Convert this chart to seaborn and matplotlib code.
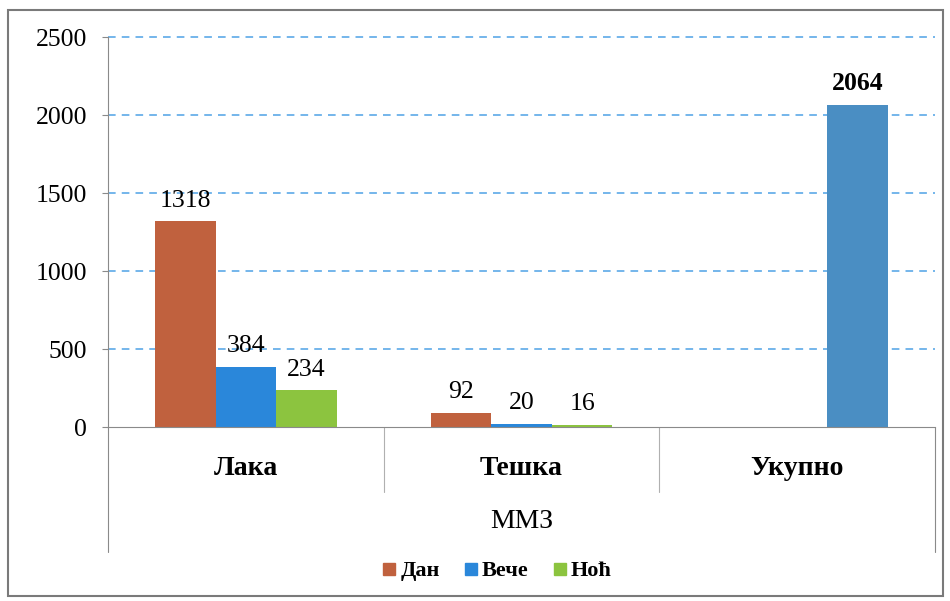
import pandas as pd
import matplotlib
matplotlib.use('Agg')
import matplotlib.pyplot as plt
import seaborn as sns
from matplotlib.lines import Line2D
from matplotlib.patches import Rectangle

# values
categories = ['Лака', 'Тешка', 'Укупно']
series = ['Дан', 'Вече', 'Ноћ']
dan = [1318, 92, None]
veche = [384, 20, None]
noc = [234, 16, 2064]
group_label = 'ММЗ'

colors = {'Дан': '#C0613E', 'Вече': '#2A87DA', 'Ноћ': '#8CC43F'}
total_color = '#4A8EC3'

rows = []
for name, vals in zip(series, [dan, veche, noc]):
    for cat, v in zip(categories, vals):
        if v is not None:
            rows.append({'cat': cat, 'series': name, 'value': v})
df = pd.DataFrame(rows)

sns.set_style('white')
plt.rcParams['font.family'] = ['Liberation Serif', 'DejaVu Serif']
plt.rcParams['text.color'] = 'black'
plt.rcParams['xtick.labelcolor'] = 'black'
plt.rcParams['ytick.labelcolor'] = 'black'

W, H = 950, 601
fig = plt.figure(figsize=(W / 100, H / 100), dpi=100)
ax = fig.add_axes([108 / W, (H - 427) / H, 827 / W, 390 / H])

sns.barplot(data=df, x='cat', y='value', hue='series', order=categories,
            hue_order=series, palette=colors, width=0.66, saturation=1,
            linewidth=0, legend=False, ax=ax)

# the total bar has its own colour
total_bar = ax.containers[2].patches[-1]
total_bar.set_facecolor(total_color)

for i, cont in enumerate(ax.containers):
    labs = ax.bar_label(cont, fmt='%d', padding=7, fontsize=18.5)
    if i == 2:
        labs[-1].set_fontweight('bold')

ax.set_xlim(-0.5, 2.5)
ax.set_ylim(0, 2500)
ax.set_yticks(range(0, 2501, 500))
ax.yaxis.grid(True, linestyle=(0, (5, 4)), color='#4EA2E6', linewidth=1.1)
ax.set_axisbelow(True)
for s in ['top', 'right']:
    ax.spines[s].set_visible(False)
ax.spines['left'].set_color('#8A8A8A')
ax.spines['bottom'].set_color('#8A8A8A')
ax.spines['bottom'].set_zorder(3)
ax.tick_params(axis='y', length=4, direction='out', color='#8A8A8A',
               labelsize=18.5, pad=11, left=True)
ax.tick_params(axis='x', length=0, pad=21)
ax.set_xticks(range(len(categories)))
ax.set_xticklabels(categories, fontsize=20, fontweight='bold')
ax.set_xlabel('')
ax.set_ylabel('')

# the zero line is the solid axis, not a dashed grid line
fig.canvas.draw()
grid = ax.yaxis.get_gridlines()
grid[0].set_visible(False)
for g in grid:
    g.set_clip_on(False)

# table lines under the axis
inner = -(492 - 427) / 390
outer = -(552 - 427) / 390
trans = ax.get_xaxis_transform()
for x in [0.5, 1.5]:
    ax.plot([x, x], [0, inner], transform=trans, color='#B0B0B0', lw=0.8, clip_on=False)
for x in [-0.5, 2.5]:
    ax.plot([x, x], [0, outer], transform=trans, color='#8A8A8A', lw=0.8, clip_on=False)
ax.text(1.0, -(521 - 427) / 390, group_label, transform=trans, ha='center',
        va='center', fontsize=20)

handles = [Line2D([], [], marker='s', linestyle='', markersize=9,
                  markerfacecolor=colors[s], markeredgecolor=colors[s]) for s in series]
fig.legend(handles, series, loc='center', bbox_to_anchor=(495 / W, 1 - 571 / H), ncol=3,
           frameon=False, prop={'weight': 'bold', 'size': 16}, handletextpad=0.0,
           columnspacing=0.9, handlelength=1.0)

fig.patches.append(Rectangle((8 / W, 1 - 596 / H), 935 / W, 586 / H, transform=fig.transFigure,
                             fill=False, edgecolor='#7A7A7A', linewidth=1.5))

fig.savefig('out.png', dpi=100)
